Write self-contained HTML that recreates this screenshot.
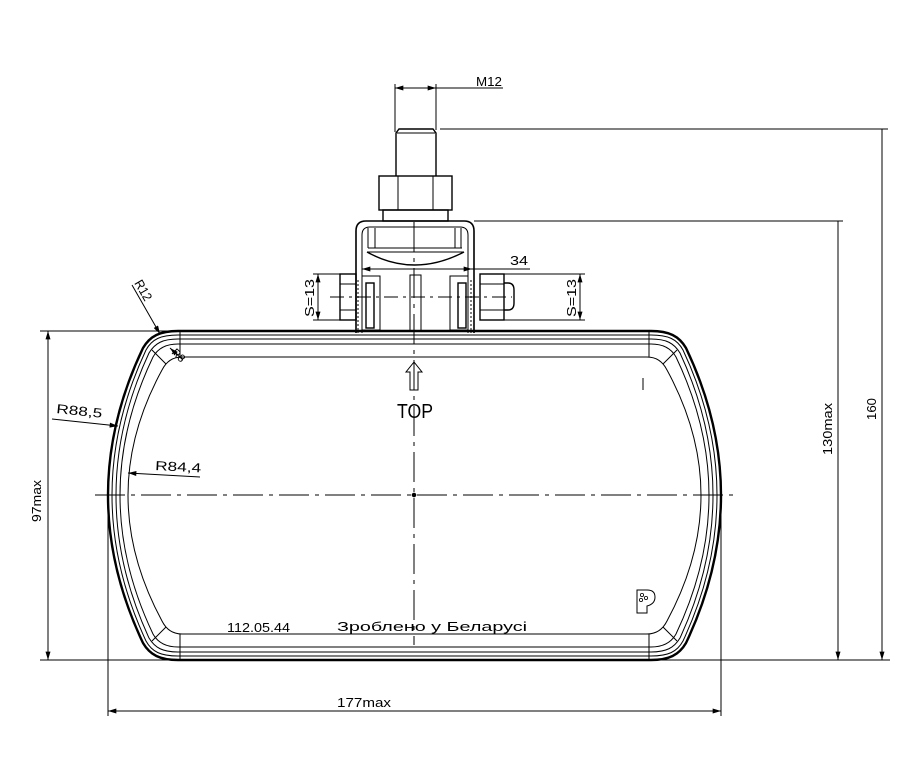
<!DOCTYPE html>
<html><head><meta charset="utf-8"><style>
html,body{margin:0;padding:0;background:#fff}
svg{display:block}
text{font-family:"Liberation Sans",sans-serif;fill:#000}
</style></head><body>
<svg width="922" height="759" viewBox="0 0 922 759" xmlns="http://www.w3.org/2000/svg">
<defs>
<marker id="a" viewBox="0 0 10 6" refX="10" refY="3" markerWidth="12" markerHeight="5" orient="auto-start-reverse" markerUnits="userSpaceOnUse"><path d="M0,0L10,3L0,6Z" fill="#000"/></marker>
</defs>
<g fill="none" stroke="#000">
<!-- body outlines -->
<path stroke-width="2.4" d="M178,331 L651,331 C669,331 679,336 686,348 Q756,495 686,643 C679,655 669,660 651,660 L178,660 C160,660 150,655 143,643 Q73,495 143,348 C150,336 160,331 178,331Z"/>
<path stroke-width="1" d="M178,335 L651,335 C668,335 677,339 683,350 Q751,495 683,641 C677,652 668,656 651,656 L178,656 C161,656 152,652 146,641 Q78,495 146,350 C152,339 161,335 178,335Z"/>
<path stroke-width="1" d="M178,339 L651,339 C666,339 674,343 680,353 Q746,495 680,638 C674,648 666,652 651,652 L178,652 C163,652 155,648 149,638 Q83,495 149,353 C155,343 163,339 178,339Z"/>
<path stroke-width="1" d="M178,344 L651,344 C663,344 671,348 676,357 Q742,495 676,634 C671,643 663,647 651,647 L178,647 C166,647 158,643 153,634 Q87,495 153,357 C158,348 166,344 178,344Z"/>
<path stroke-width="1" d="M182,357 L647,357 C657,357 663,362 667,370 Q735,495 667,621 C663,629 657,634 647,634 L182,634 C172,634 166,629 162,621 Q94,495 162,370 C166,362 172,357 182,357Z"/>
<path d="M180,331V357M649,331V357M180,634V660M649,634V660M152,350L166,364M677,350L663,364M152,641L166,627M677,641L663,627" stroke-width="1"/>
<!-- centerlines -->
<path d="M95,495H735" stroke-width="1" stroke-dasharray="30,6,4,6"/>
<path d="M414,222V645" stroke-width="1" stroke-dasharray="30,6,4,6"/>
<circle cx="414" cy="495" r="1.8" fill="#000"/>
<!-- TOP arrow -->
<path d="M410,390V372H406L414,362L422,372H418V390Z" stroke-width="1"/>
<path d="M643,378V390" stroke-width="1"/>
<!-- stem -->
<path d="M395,88H503" stroke-width="1" marker-start="url(#a)"/>
<path d="M436,88H395" stroke-width="1" marker-start="url(#a)"/>
<path d="M395,84V132M436,84V130" stroke-width="1"/>
<path d="M396,176V133L399,129H433L436,133V176" stroke-width="1.4"/>
<path d="M397,133H435" stroke-width="1"/>
<rect x="379" y="176" width="73" height="34" stroke-width="1.4"/>
<path d="M398,176V210M433,176V210" stroke-width="1"/>
<rect x="383" y="210" width="65" height="11" stroke-width="1.4"/>
<path d="M356,333V231Q356,221 366,221H464Q474,221 474,231V333" stroke-width="1.6"/>
<path d="M362,333V235Q362,227 370,227H460Q468,227 468,235V333" stroke-width="1"/>
<path d="M368,228V248M375,228V248M461,228V248M455,228V248M368,248H462M367,252H464" stroke-width="1"/>
<path d="M367,252Q414,278 464,252" stroke-width="1.4"/>
<path d="M362,269H530" stroke-width="1"/>
<path d="M362,269H390" stroke-width="1" marker-start="url(#a)"/>
<path d="M472,269H445" stroke-width="1" marker-start="url(#a)"/>
<!-- lower nuts/plates -->
<rect x="340" y="274" width="16" height="46" stroke-width="1.4"/>
<path d="M340,284H356M340,310H356" stroke-width="1"/>
<rect x="366" y="283" width="8" height="45" stroke-width="1.4"/>
<rect x="362" y="276" width="18" height="54" stroke-width="1"/>
<rect x="410" y="275" width="11" height="56" stroke-width="1"/>
<rect x="458" y="283" width="8" height="45" stroke-width="1.4"/>
<rect x="450" y="276" width="18" height="54" stroke-width="1"/>
<path d="M358,280V333M471,280V333" stroke-width="1" stroke-dasharray="2,2"/>
<rect x="480" y="274" width="24" height="46" stroke-width="1.4"/>
<path d="M480,284H504M480,310H504" stroke-width="1"/>
<path d="M504,283H508Q514,283 514,290V303Q514,310 508,310H504" stroke-width="1.4"/>
<path d="M330,297H512" stroke-width="1" stroke-dasharray="14,5,3,5"/>
<path d="M313,274H340M313,320H340M504,274H585M504,320H585" stroke-width="1"/>
<path d="M318,274V320" stroke-width="1" marker-start="url(#a)" marker-end="url(#a)"/>
<path d="M580,274V320" stroke-width="1" marker-start="url(#a)" marker-end="url(#a)"/>
<!-- extension / dims -->
<path d="M440,129H888M474,221H843M40,660H890M40,331H170M108,495V716M721,495V716" stroke-width="1"/>
<path d="M838,221V660" stroke-width="1" marker-end="url(#a)"/>
<path d="M882,129V660" stroke-width="1" marker-end="url(#a)"/>
<path d="M48,331V660" stroke-width="1" marker-start="url(#a)" marker-end="url(#a)"/>
<path d="M108,711H721" stroke-width="1" marker-start="url(#a)" marker-end="url(#a)"/>
<!-- radius leaders -->
<path d="M132,285L160,334" stroke-width="1" marker-end="url(#a)"/>
<path d="M52,419L118,426" stroke-width="1" marker-end="url(#a)"/>
<path d="M200,477L128,473" stroke-width="1" marker-end="url(#a)"/>
<path d="M183,360L170,348" stroke-width="1" marker-end="url(#a)"/>
<!-- logo -->
<path d="M637,601V613H647V606Q655,604 655,597Q655,590 647,590H637Z" stroke-width="1"/>
<circle cx="642" cy="595" r="1.6" stroke-width="0.8"/><circle cx="641" cy="600" r="1.6" stroke-width="0.8"/><circle cx="646" cy="598" r="1.6" stroke-width="0.8"/>
</g>
<g font-size="13">
<text x="476" y="86" textLength="26" lengthAdjust="spacingAndGlyphs">M12</text>
<text x="510" y="265" textLength="18" lengthAdjust="spacingAndGlyphs">34</text>
<text transform="translate(314,317) rotate(-90)" textLength="38" lengthAdjust="spacingAndGlyphs">S=13</text>
<text transform="translate(576,317) rotate(-90)" textLength="38" lengthAdjust="spacingAndGlyphs">S=13</text>
<text transform="translate(832,455) rotate(-90)" textLength="52" lengthAdjust="spacingAndGlyphs">130max</text>
<text transform="translate(876,420) rotate(-90)" textLength="22" lengthAdjust="spacingAndGlyphs">160</text>
<text transform="translate(41,522) rotate(-90)" textLength="42" lengthAdjust="spacingAndGlyphs">97max</text>
<text x="337" y="707" textLength="54" lengthAdjust="spacingAndGlyphs">177max</text>
<text transform="translate(134,283) rotate(60)" textLength="22" lengthAdjust="spacingAndGlyphs">R12</text>
<text transform="translate(56,413) rotate(6)" textLength="46" lengthAdjust="spacingAndGlyphs">R88,5</text>
<text transform="translate(155,470) rotate(3)" textLength="46" lengthAdjust="spacingAndGlyphs">R84,4</text>
<text transform="translate(171,353) rotate(45)" font-size="11">R8</text>
<text x="397" y="418" font-size="20" textLength="36" lengthAdjust="spacingAndGlyphs">TOP</text>
<text x="227" y="632" textLength="63" lengthAdjust="spacingAndGlyphs">112.05.44</text>
<text x="337" y="631" textLength="190" lengthAdjust="spacingAndGlyphs">Зроблено у Беларусі</text>
</g>
</svg>
</body></html>
